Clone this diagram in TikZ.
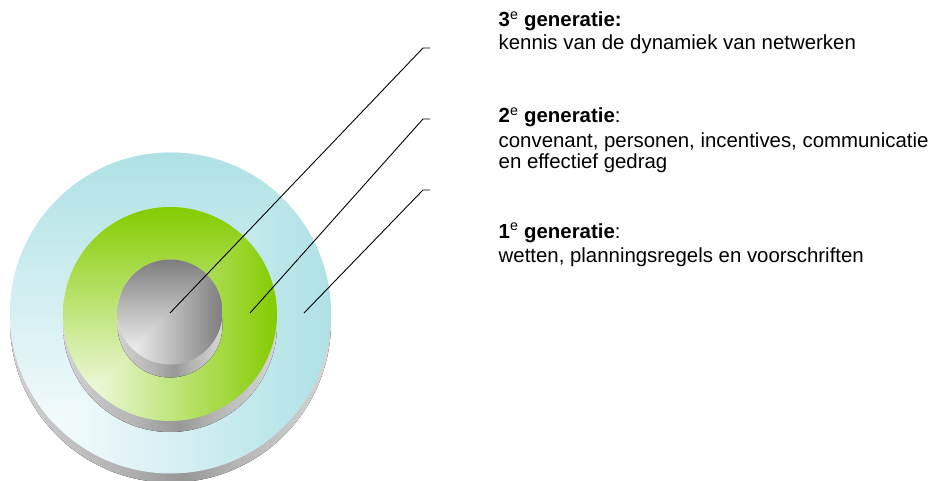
\documentclass[tikz,border=0pt]{standalone}
\usepackage{fontspec}
\setmainfont{Liberation Sans}
\definecolor{cyanring}{HTML}{AEE1E5}
\definecolor{greenring}{HTML}{84CC00}
\definecolor{grayring}{HTML}{7E7E7E}
\definecolor{sideL}{HTML}{D2D2D2}
\definecolor{sideM}{HTML}{B4B4B4}
\definecolor{sideD}{HTML}{979797}
\definecolor{sideR}{HTML}{D6D6D6}
\pgfdeclarehorizontalshading{sideshade}{100bp}{color(0bp)=(sideL); color(25bp)=(sideL); color(42bp)=(sideM); color(52bp)=(sideD); color(60bp)=(sideM); color(75bp)=(sideR); color(100bp)=(sideR)}
\newcommand\ringdisk[5]{%
  % #1 cx, #2 cy, #3 r, #4 side depth, #5 colour
  \fill[shading=sideshade] (#1,#2+#4) circle (#3);
  \begin{scope}
    \clip (#1,#2) circle (#3);
    \shade[left color=white, right color=#5] (#1-#3,#2-#3) rectangle (#1+#3,#2+#3);
    \shade[top color=#5, bottom color=white] (#1-#3,#2+#3) -- (#1-#3,#2-#3) -- (#1+#3,#2-#3) -- cycle;
  \end{scope}}
\tikzset{
  leader/.style={draw=black, line width=0.9pt},
  headtext/.style={anchor=base west, inner sep=0pt, font=\fontsize{20.4}{22}\selectfont},
  bodytext/.style={anchor=base west, inner sep=0pt, font=\fontsize{20.4}{22}\selectfont}
}
\begin{document}
\begin{tikzpicture}[x=1pt,y=-1pt]
\useasboundingbox (0,0) rectangle (934,481);
\begin{scope}
\clip (0,0) rectangle (934,481);
\ringdisk{170.5}{313}{160.5}{9}{cyanring}
\ringdisk{170}{314}{107}{11}{greenring}
\ringdisk{170}{312}{52.5}{13}{grayring}
\end{scope}
% leader lines
\coordinate (p1) at (170,313);
\coordinate (p2) at (250,313);
\coordinate (p3) at (304,313);
\coordinate (k1) at (423,48);
\coordinate (k2) at (423,119);
\coordinate (k3) at (423,190);
\coordinate (e1) at (430,48);
\coordinate (e2) at (430,119);
\coordinate (e3) at (430,190);
\draw[leader] (p1) -- (k1) -- (e1);
\draw[leader] (p2) -- (k2) -- (e2);
\draw[leader] (p3) -- (k3) -- (e3);
% texts
\node[headtext] (h3) at (498.5,27) {\textbf{3\textsuperscript{\mdseries e} generatie:}};
\node[bodytext] (t3) at (498.5,50) {kennis van de dynamiek van netwerken};
\node[headtext] (h2) at (498.5,123) {\textbf{2\textsuperscript{\mdseries e} generatie}:};
\node[bodytext] (t2a) at (498.5,147.5) {convenant, personen, incentives, communicatie};
\node[bodytext] (t2b) at (498.5,169) {en effectief gedrag};
\node[headtext] (h1) at (498.5,238) {\textbf{1\textsuperscript{\mdseries e} generatie}:};
\node[bodytext] (t1) at (498.5,262) {wetten, planningsregels en voorschriften};
\end{tikzpicture}
\end{document}
